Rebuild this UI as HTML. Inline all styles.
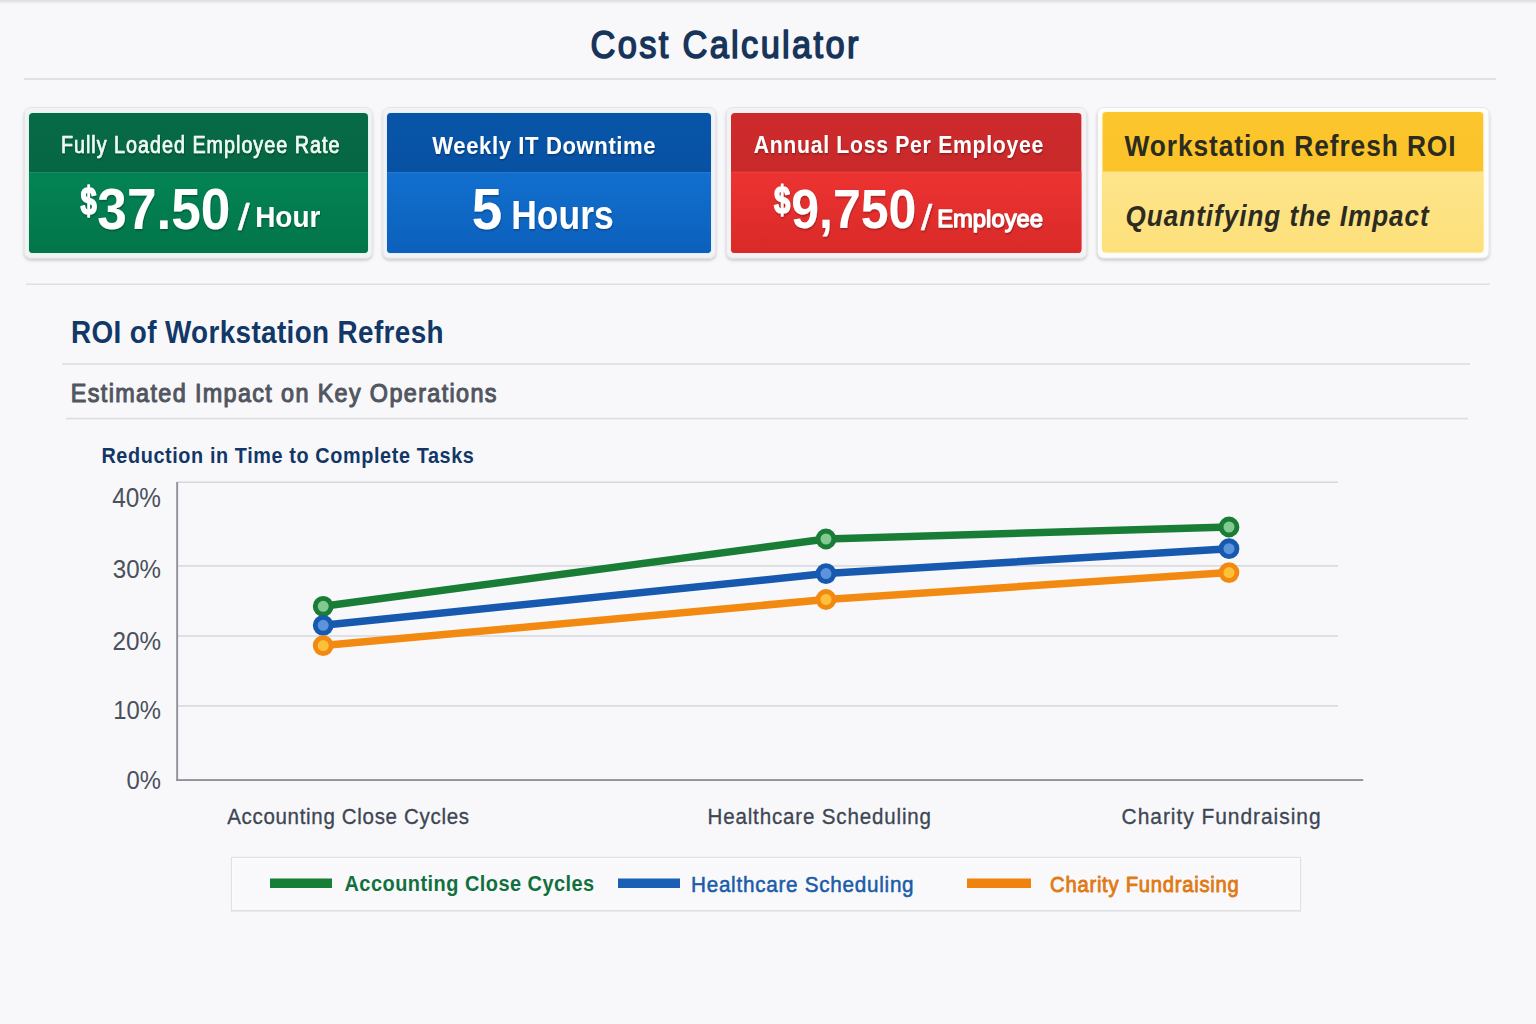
<!DOCTYPE html>
<html><head><meta charset="utf-8"><title>Cost Calculator</title>
<style>
html,body{margin:0;padding:0;background:#f8f8fb;width:1536px;height:1024px;overflow:hidden}
svg{display:block;font-family:"Liberation Sans",sans-serif}
</style></head><body>
<svg width="1536" height="1024" viewBox="0 0 1536 1024">
<defs>
<linearGradient id="topsh" x1="0" y1="0" x2="0" y2="1"><stop offset="0" stop-color="#dcdce0"/><stop offset="1" stop-color="#f8f8fb"/></linearGradient>
<filter id="cardsh" x="-5%" y="-10%" width="110%" height="130%"><feDropShadow dx="0" dy="2" stdDeviation="1.6" flood-color="#000" flood-opacity="0.2"/></filter>
<filter id="legsh" x="-2%" y="-20%" width="104%" height="150%"><feDropShadow dx="0" dy="1" stdDeviation="0.6" flood-color="#000" flood-opacity="0.06"/></filter>
<filter id="tsh" x="-5%" y="-20%" width="110%" height="150%"><feDropShadow dx="0.6" dy="1.2" stdDeviation="0.8" flood-color="#000" flood-opacity="0.35"/></filter>
<linearGradient id="g1h" x1="0" y1="0" x2="0" y2="1"><stop offset="0" stop-color="#076a46"/><stop offset="1" stop-color="#046241"/></linearGradient>
<linearGradient id="g1b" x1="0" y1="0" x2="0" y2="1"><stop offset="0" stop-color="#038455"/><stop offset="1" stop-color="#02754a"/></linearGradient>
<linearGradient id="g2h" x1="0" y1="0" x2="0" y2="1"><stop offset="0" stop-color="#0855a7"/><stop offset="1" stop-color="#064d9e"/></linearGradient>
<linearGradient id="g2b" x1="0" y1="0" x2="0" y2="1"><stop offset="0" stop-color="#126fce"/><stop offset="1" stop-color="#0c60bc"/></linearGradient>
<linearGradient id="g3h" x1="0" y1="0" x2="0" y2="1"><stop offset="0" stop-color="#cd2a2c"/><stop offset="1" stop-color="#c52828"/></linearGradient>
<linearGradient id="g3b" x1="0" y1="0" x2="0" y2="1"><stop offset="0" stop-color="#ec3332"/><stop offset="1" stop-color="#d92a28"/></linearGradient>
<linearGradient id="g4h" x1="0" y1="0" x2="0" y2="1"><stop offset="0" stop-color="#fcc62e"/><stop offset="1" stop-color="#fbbf22"/></linearGradient>
<linearGradient id="g4b" x1="0" y1="0" x2="0" y2="1"><stop offset="0" stop-color="#fee58c"/><stop offset="1" stop-color="#fde07a"/></linearGradient>
</defs>
<rect x="0" y="0" width="1536" height="1024" fill="#f8f8fb"/>
<rect x="0" y="0" width="1536" height="4" fill="url(#topsh)"/>

<text transform="translate(590.48,58.40) scale(0.8700,1)" font-size="39.53" font-weight="400" font-style="normal" fill="#17345a" letter-spacing="2.705" stroke="#17345a" stroke-width="1.61" stroke-linejoin="round" >Cost Calculator</text>
<rect x="24" y="78" width="1472" height="2" fill="#e0e1e5"/>
<rect x="24.5" y="107.5" width="347.5" height="150.5" rx="6" fill="#f3f3f6" stroke="#e6e6ea" stroke-width="1" filter="url(#cardsh)"/>
<rect x="27.7" y="111.7" width="341.6" height="142.6" rx="5" fill="#e0f6ec"/>
<clipPath id="cg1"><rect x="29" y="113" width="339" height="140" rx="4"/></clipPath>
<g clip-path="url(#cg1)"><rect x="29" y="113" width="339" height="140" fill="url(#g1h)"/><rect x="29" y="172" width="339" height="81" fill="url(#g1b)"/><rect x="29" y="172" width="339" height="1" fill="#ffffff" fill-opacity="0.08"/></g>
<rect x="383" y="107.5" width="332.5" height="150.5" rx="6" fill="#f3f3f6" stroke="#e6e6ea" stroke-width="1" filter="url(#cardsh)"/>
<rect x="385.7" y="111.7" width="326.6" height="142.6" rx="5" fill="#e4eefb"/>
<clipPath id="cg2"><rect x="387" y="113" width="324" height="140" rx="4"/></clipPath>
<g clip-path="url(#cg2)"><rect x="387" y="113" width="324" height="140" fill="url(#g2h)"/><rect x="387" y="172" width="324" height="81" fill="url(#g2b)"/><rect x="387" y="172" width="324" height="1" fill="#ffffff" fill-opacity="0.08"/></g>
<rect x="726.5" y="107.5" width="360.0" height="150.5" rx="6" fill="#f3f3f6" stroke="#e6e6ea" stroke-width="1" filter="url(#cardsh)"/>
<rect x="729.7" y="111.7" width="353.19999999999993" height="142.6" rx="5" fill="#fbeeee"/>
<clipPath id="cg3"><rect x="731" y="113" width="350.5999999999999" height="140" rx="4"/></clipPath>
<g clip-path="url(#cg3)"><rect x="731" y="113" width="350.5999999999999" height="140" fill="url(#g3h)"/><rect x="731" y="171.7" width="350.5999999999999" height="81.30000000000001" fill="url(#g3b)"/><rect x="731" y="171.7" width="350.5999999999999" height="1" fill="#ffffff" fill-opacity="0.08"/></g>
<rect x="1097.5" y="107.5" width="391.5" height="150.5" rx="6" fill="#fdfdfd" stroke="#e6e6ea" stroke-width="1" filter="url(#cardsh)"/>
<rect x="1101.0" y="110.7" width="383.80000000000007" height="143.1" rx="5" fill="#fffbea"/>
<clipPath id="cg4"><rect x="1102.3" y="112" width="381.20000000000005" height="140.5" rx="4"/></clipPath>
<g clip-path="url(#cg4)"><rect x="1102.3" y="112" width="381.20000000000005" height="140.5" fill="url(#g4h)"/><rect x="1102.3" y="171.5" width="381.20000000000005" height="81.0" fill="url(#g4b)"/><rect x="1102.3" y="171.5" width="381.20000000000005" height="1" fill="#ffffff" fill-opacity="0.08"/></g>
<text transform="translate(60.92,152.80) scale(0.8400,1)" font-size="23.55" font-weight="400" font-style="normal" fill="#effdf3" letter-spacing="1.172" stroke="#effdf3" stroke-width="0.71" stroke-linejoin="round" filter="url(#tsh)">Fully Loaded Employee Rate</text>
<text transform="translate(80.46,213.50) scale(0.7540,1)" font-size="38.65" font-weight="700" font-style="normal" fill="#ffffff" stroke="#ffffff" stroke-width="1.59" stroke-linejoin="round" filter="url(#tsh)">$</text>
<text transform="translate(97.37,229.20) scale(0.9287,1)" font-size="57.27" font-weight="700" font-style="normal" fill="#ffffff" filter="url(#tsh)">37.50</text>
<text transform="translate(238.00,230.03) scale(1.1209,1)" font-size="37.28" font-weight="400" font-style="normal" fill="#ffffff" stroke="#ffffff" stroke-width="0.54" stroke-linejoin="round" filter="url(#tsh)">/</text>
<text transform="translate(255.18,227.20) scale(0.9241,1)" font-size="30.23" font-weight="700" font-style="normal" fill="#ffffff" filter="url(#tsh)">Hour</text>
<text transform="translate(432.30,153.50) scale(0.9000,1)" font-size="24.56" font-weight="700" font-style="normal" fill="#ffffff" letter-spacing="0.656" filter="url(#tsh)">Weekly IT Downtime</text>
<text transform="translate(471.86,229.43) scale(0.9687,1)" font-size="56.57" font-weight="700" font-style="normal" fill="#ffffff" filter="url(#tsh)">5</text>
<text transform="translate(511.19,229.00) scale(0.8780,1)" font-size="40.41" font-weight="700" font-style="normal" fill="#ffffff" filter="url(#tsh)">Hours</text>
<text transform="translate(753.67,153.30) scale(0.8800,1)" font-size="24.13" font-weight="700" font-style="normal" fill="#ffffff" letter-spacing="0.790" filter="url(#tsh)">Annual Loss Per Employee</text>
<text transform="translate(774.06,213.05) scale(0.7712,1)" font-size="38.04" font-weight="700" font-style="normal" fill="#ffffff" stroke="#ffffff" stroke-width="1.56" stroke-linejoin="round" filter="url(#tsh)">$</text>
<text transform="translate(791.15,227.60) scale(0.9112,1)" font-size="54.94" font-weight="700" font-style="normal" fill="#ffffff" filter="url(#tsh)">9,750</text>
<text transform="translate(920.95,229.50) scale(1.1632,1)" font-size="34.69" font-weight="400" font-style="normal" fill="#ffffff" stroke="#ffffff" stroke-width="0.43" stroke-linejoin="round" filter="url(#tsh)">/</text>
<text transform="translate(937.14,227.00) scale(0.9697,1)" font-size="24.56" font-weight="400" font-style="normal" fill="#ffffff" stroke="#ffffff" stroke-width="1.34" stroke-linejoin="round" filter="url(#tsh)">Employee</text>
<text transform="translate(1124.50,156.30) scale(0.8800,1)" font-size="29.94" font-weight="700" font-style="normal" fill="#2b2b20" letter-spacing="1.023" >Workstation Refresh ROI</text>
<text transform="translate(1125.60,225.80) scale(0.8800,1)" font-size="29.65" font-weight="700" font-style="italic" fill="#2b2b22" letter-spacing="1.120" >Quantifying the Impact</text>
<rect x="26" y="283.5" width="1464" height="1.5" fill="#dfe0e4"/>
<text transform="translate(70.99,343.00) scale(0.9000,1)" font-size="30.96" font-weight="700" font-style="normal" fill="#123868" letter-spacing="0.420" >ROI of Workstation Refresh</text>
<rect x="62" y="363.2" width="1408" height="1.6" fill="#dcdde2"/>
<text transform="translate(70.83,401.60) scale(0.9200,1)" font-size="25.44" font-weight="400" font-style="normal" fill="#51565f" letter-spacing="1.469" stroke="#51565f" stroke-width="1.09" stroke-linejoin="round" >Estimated Impact on Key Operations</text>
<rect x="66" y="417.8" width="1402" height="1.6" fill="#dcdde2"/>
<text transform="translate(101.41,462.70) scale(0.8800,1)" font-size="22.53" font-weight="700" font-style="normal" fill="#123767" letter-spacing="0.691" >Reduction in Time to Complete Tasks</text>
<rect x="177" y="481.45" width="1161" height="1.5" fill="#d6d7dc"/>
<rect x="177" y="565.15" width="1161" height="1.5" fill="#d6d7dc"/>
<rect x="177" y="635.25" width="1161" height="1.5" fill="#d6d7dc"/>
<rect x="177" y="705.15" width="1161" height="1.5" fill="#d6d7dc"/>
<rect x="176.2" y="482" width="1.9" height="299" fill="#909299"/>
<rect x="176.2" y="779.1" width="1187" height="1.9" fill="#909299"/>
<text transform="translate(112.21,507.13) scale(0.9059,1)" font-size="26.90" font-weight="400" font-style="normal" fill="#4a505c" >40%</text>
<text transform="translate(112.74,577.94) scale(0.9201,1)" font-size="26.20" font-weight="400" font-style="normal" fill="#4a505c" >30%</text>
<text transform="translate(112.49,649.84) scale(0.9151,1)" font-size="26.48" font-weight="400" font-style="normal" fill="#4a505c" >20%</text>
<text transform="translate(113.21,719.34) scale(0.9012,1)" font-size="26.48" font-weight="400" font-style="normal" fill="#4a505c" >10%</text>
<text transform="translate(126.45,789.04) scale(0.9062,1)" font-size="26.34" font-weight="400" font-style="normal" fill="#4a505c" >0%</text>
<polyline points="323.2,606.3 826,539 1229,527" fill="none" stroke="#197d35" stroke-width="7.5" stroke-linejoin="round" stroke-linecap="round"/>
<polyline points="323.2,625.3 826,573.6 1229,548.7" fill="none" stroke="#1859b0" stroke-width="7.5" stroke-linejoin="round" stroke-linecap="round"/>
<polyline points="323.2,645.6 826,599.5 1229,572.6" fill="none" stroke="#f28a12" stroke-width="7.5" stroke-linejoin="round" stroke-linecap="round"/>
<circle cx="323.2" cy="606.3" r="7.95" fill="#84c892" stroke="#197d35" stroke-width="4.9"/>
<circle cx="826" cy="539" r="7.95" fill="#84c892" stroke="#197d35" stroke-width="4.9"/>
<circle cx="1229" cy="527" r="7.95" fill="#84c892" stroke="#197d35" stroke-width="4.9"/>
<circle cx="323.2" cy="625.3" r="7.95" fill="#5c94db" stroke="#1859b0" stroke-width="4.9"/>
<circle cx="826" cy="573.6" r="7.95" fill="#5c94db" stroke="#1859b0" stroke-width="4.9"/>
<circle cx="1229" cy="548.7" r="7.95" fill="#5c94db" stroke="#1859b0" stroke-width="4.9"/>
<circle cx="323.2" cy="645.6" r="7.95" fill="#fcc03a" stroke="#f28a12" stroke-width="4.9"/>
<circle cx="826" cy="599.5" r="7.95" fill="#fcc03a" stroke="#f28a12" stroke-width="4.9"/>
<circle cx="1229" cy="572.6" r="7.95" fill="#fcc03a" stroke="#f28a12" stroke-width="4.9"/>
<text transform="translate(227.15,824.00) scale(0.9000,1)" font-size="22.82" font-weight="400" font-style="normal" fill="#3e4654" letter-spacing="0.756" stroke="#3e4654" stroke-width="0.33" stroke-linejoin="round" >Accounting Close Cycles</text>
<text transform="translate(707.51,823.50) scale(0.9000,1)" font-size="22.82" font-weight="400" font-style="normal" fill="#3e4654" letter-spacing="0.948" stroke="#3e4654" stroke-width="0.33" stroke-linejoin="round" >Healthcare Scheduling</text>
<text transform="translate(1121.60,823.50) scale(0.9200,1)" font-size="22.82" font-weight="400" font-style="normal" fill="#3e4654" letter-spacing="1.032" stroke="#3e4654" stroke-width="0.33" stroke-linejoin="round" >Charity Fundraising</text>
<rect x="231.5" y="857.4" width="1069" height="53" fill="#f9f9fb" stroke="#e0e1e5" stroke-width="1.2" filter="url(#legsh)"/>
<rect x="233" y="858.9" width="1066" height="50" fill="none" stroke="#fdfdfe" stroke-width="1"/>
<rect x="270" y="878.5" width="62" height="9.5" fill="#177e35"/>
<rect x="618" y="878.5" width="62" height="9.5" fill="#1a5fb5"/>
<rect x="967" y="878.5" width="64" height="9.5" fill="#f08210"/>
<text transform="translate(344.50,890.70) scale(0.8800,1)" font-size="22.67" font-weight="700" font-style="normal" fill="#12703f" letter-spacing="0.535" >Accounting Close Cycles</text>
<text transform="translate(691.00,891.90) scale(0.9000,1)" font-size="22.97" font-weight="400" font-style="normal" fill="#1b5ca8" letter-spacing="0.815" stroke="#1b5ca8" stroke-width="0.56" stroke-linejoin="round" >Healthcare Scheduling</text>
<text transform="translate(1050.09,891.60) scale(0.8800,1)" font-size="22.97" font-weight="400" font-style="normal" fill="#e07a14" letter-spacing="0.853" stroke="#e07a14" stroke-width="0.91" stroke-linejoin="round" >Charity Fundraising</text>
</svg></body></html>
